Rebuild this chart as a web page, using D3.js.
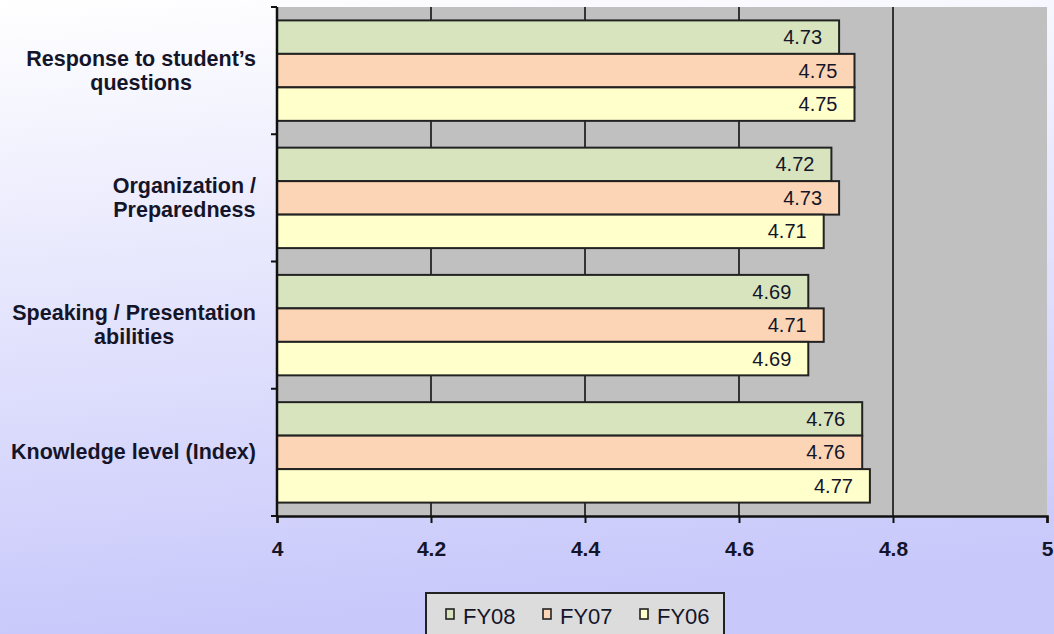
<!DOCTYPE html>
<html>
<head>
<meta charset="utf-8">
<script src="https://cdn.jsdelivr.net/npm/d3@7"></script>
<style>
  html, body { margin: 0; padding: 0; }
  body { width: 1054px; height: 634px; overflow: hidden; }
  svg { display: block; font-family: "Liberation Sans", Arial, sans-serif; }
</style>
</head>
<body>
<div id="chart"></div>
<script>
// Data
const categories = ["Response to student’s questions", "Organization / Preparedness", "Speaking / Presentation abilities", "Knowledge level (Index)"];
const categoryLines = [["Response to student’s", "questions"], ["Organization /", "Preparedness"], ["Speaking / Presentation", "abilities"], ["Knowledge level (Index)"]];
const seriesNames = ["FY08", "FY07", "FY06"];
const fy08 = [4.73, 4.72, 4.69, 4.76];
const fy07 = [4.75, 4.73, 4.71, 4.76];
const fy06 = [4.75, 4.71, 4.69, 4.77];
const xTicks = [4, 4.2, 4.4, 4.6, 4.8, 5];

const seriesValues = { FY08: fy08, FY07: fy07, FY06: fy06 };
const colors = { FY08: "#d7e4bd", FY07: "#fbd5b5", FY06: "#ffffcc" };

const W = 1054, H = 634;
const plot = { left: 277, top: 7, right: 1047, bottom: 516 };

const svg = d3.select("#chart").append("svg")
  .attr("width", W)
  .attr("height", H);

// background gradient
const defs = svg.append("defs");
const grad = defs.append("linearGradient")
  .attr("id", "bg")
  .attr("x1", 0).attr("y1", 0).attr("x2", 0.15).attr("y2", 1);
grad.append("stop").attr("offset", "0%").attr("stop-color", "#ffffff");
grad.append("stop").attr("offset", "100%").attr("stop-color", "#c8c8fb");
svg.append("rect").attr("width", W).attr("height", H).attr("fill", "url(#bg)");

const x = d3.scaleLinear().domain([4, 5]).range([plot.left, plot.right]);
const y0 = d3.scaleBand().domain(categories).range([plot.top, plot.bottom]);
const y1 = d3.scaleBand().domain(seriesNames).range([0, y0.bandwidth()]).paddingOuter(0.4);

// plot area
svg.append("rect")
  .attr("x", plot.left).attr("y", plot.top)
  .attr("width", plot.right - plot.left).attr("height", plot.bottom - plot.top)
  .attr("fill", "#c0c0c0");

// vertical gridlines
svg.append("g").selectAll("line")
  .data(xTicks.slice(1, -1))
  .enter().append("line")
  .attr("x1", d => x(d)).attr("x2", d => x(d))
  .attr("y1", plot.top).attr("y2", plot.bottom)
  .attr("stroke", "#111").attr("stroke-width", 1.6);

// bars
const groups = svg.append("g").selectAll("g")
  .data(categories)
  .enter().append("g")
  .attr("transform", d => `translate(0,${y0(d)})`);

groups.each(function (cat, i) {
  const g = d3.select(this);
  seriesNames.forEach(s => {
    const v = seriesValues[s][i];
    g.append("rect")
      .attr("x", x(4))
      .attr("y", y1(s))
      .attr("width", x(v) - x(4))
      .attr("height", y1.bandwidth())
      .attr("fill", colors[s])
      .attr("stroke", "#222")
      .attr("stroke-width", 2);
    g.append("text")
      .attr("x", x(v) - 17)
      .attr("y", y1(s) + y1.bandwidth() / 2 + 7)
      .attr("text-anchor", "end")
      .attr("font-size", 20)
      .attr("fill", "#15152a")
      .text(v.toFixed(2));
  });
});

// bottom axis
const xAxis = svg.append("g")
  .attr("transform", `translate(0,${plot.bottom})`)
  .call(d3.axisBottom(x).tickValues(xTicks).tickSize(7).tickPadding(18).tickFormat(d3.format("")));
xAxis.select(".domain").attr("stroke", "#111").attr("stroke-width", 2.5);
xAxis.selectAll(".tick line").attr("stroke", "#111").attr("stroke-width", 2);
xAxis.selectAll(".tick text")
  .attr("font-size", 21).attr("font-weight", "bold").attr("fill", "#15152a")
  .attr("font-family", "Liberation Sans, Arial, sans-serif");

// left axis with ticks at category boundaries
const yAxis = svg.append("g");
yAxis.append("line")
  .attr("x1", plot.left).attr("x2", plot.left)
  .attr("y1", plot.top).attr("y2", plot.bottom)
  .attr("stroke", "#111").attr("stroke-width", 2.5);
const bounds = categories.map(c => y0(c)).concat([plot.bottom]);
yAxis.selectAll("line.tk")
  .data(bounds)
  .enter().append("line")
  .attr("class", "tk")
  .attr("x1", plot.left - 6).attr("x2", plot.left)
  .attr("y1", d => d).attr("y2", d => d)
  .attr("stroke", "#111").attr("stroke-width", 2);

// category labels, lines centred, block right-aligned
const labelRight = 256;
categories.forEach((c, i) => {
  const lines = categoryLines[i];
  const t = svg.append("text")
    .attr("font-size", 21.5).attr("font-weight", "bold")
    .attr("fill", "#15152a")
    .attr("text-anchor", "middle");
  const cy = y0(c) + y0.bandwidth() / 2;
  const spans = lines.map((ln, j) => t.append("tspan")
    .attr("y", cy + (j - (lines.length - 1) / 2) * 24 + 7)
    .text(ln));
  const maxW = d3.max(spans, s => s.node().getComputedTextLength());
  spans.forEach(s => s.attr("x", labelRight - maxW / 2));
});

// legend
const leg = svg.append("g");
leg.append("rect")
  .attr("x", 426).attr("y", 593)
  .attr("width", 298).attr("height", 60)
  .attr("fill", "#dcdcdc").attr("stroke", "#222").attr("stroke-width", 2);
seriesNames.forEach((s, i) => {
  const lx = 446 + i * 97;
  leg.append("rect")
    .attr("x", lx).attr("y", 609)
    .attr("width", 8).attr("height", 10)
    .attr("fill", colors[s]).attr("stroke", "#222").attr("stroke-width", 1.6);
  leg.append("text")
    .attr("x", lx + 17).attr("y", 624)
    .attr("font-size", 22).attr("fill", "#15152a")
    .text(s);
});
</script>
</body>
</html>
